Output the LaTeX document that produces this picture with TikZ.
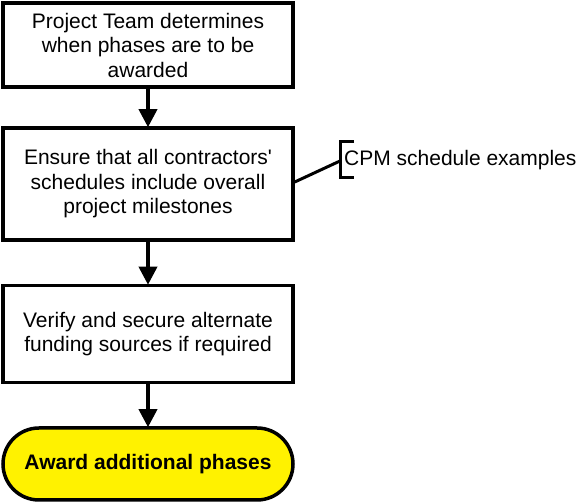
\documentclass[tikz,border=0pt]{standalone}
\usepackage{fontspec}
\setmainfont{Liberation Sans}[Ligatures=TeXOff]
\usetikzlibrary{arrows.meta}
\begin{document}
\begin{tikzpicture}[x=1pt,y=-1pt,
  txt/.style={font=\fontsize{21}{24.5}\selectfont},
  stepbox/.style={draw=black, line width=3.5pt, minimum width=290pt, align=center, txt, inner sep=0pt},
  term/.style={draw=black, line width=3.5pt, fill=yellow, minimum width=290pt, minimum height=72pt, rounded corners=36pt, font=\bfseries\fontsize{21}{24.5}\selectfont, inner sep=0pt},
  flow/.style={line width=3.5pt, -{Triangle[width=18pt,length=18pt]}, shorten >=-1pt},
  note/.style={line width=3pt}]
\useasboundingbox (0,0) rectangle (582,502);
\node[stepbox, minimum height=84pt] (b1) at (148,45) {Project Team determines\\when phases are to be\\awarded};
\node[stepbox, minimum height=112pt] (b2) at (148,184) {Ensure that all contractors'\\schedules include overall\\project milestones};
\node[stepbox, minimum height=97pt] (b3) at (148,334) {Verify and secure alternate\\funding sources if required};
\node[term] (t) at (148,464) {Award additional phases};
\node[anchor=west, inner sep=0pt, txt] (cpm) at (344,160) {CPM schedule examples};
\coordinate (br) at (340,161);
\draw[note] (354,142) -- (340,142) -- (340,178) -- (354,178);
\draw[note] (b2.east |- 0,182) -- (br);
\draw[flow] (b1) -- (b2);
\draw[flow] (b2) -- (b3);
\draw[flow] (b3) -- (t);
\end{tikzpicture}
\end{document}
